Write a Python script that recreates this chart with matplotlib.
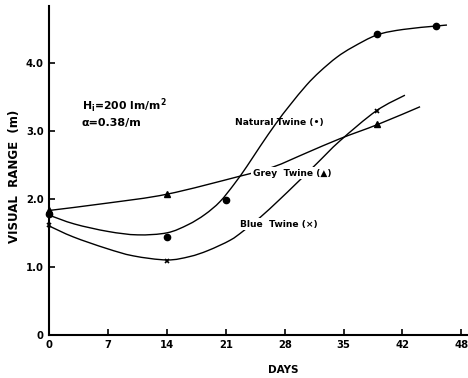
import numpy as np
import matplotlib
matplotlib.use("Agg")
import matplotlib.pyplot as plt
from matplotlib.path import Path
import matplotlib.patches as mpatches

# measured points (days, visual range in m)
nat_days = [0, 14, 21, 39, 46]
nat_vals = [1.78, 1.44, 1.99, 4.44, 4.55]
grey_days = [0, 14, 39]
grey_vals = [1.83, 2.08, 3.10]
blue_days = [0, 14, 39]
blue_vals = [1.61, 1.09, 3.30]

# hand drawn fitted curves
nat_curve_x = [0, 3, 7, 10.5, 14, 16.5, 18.5, 20.3, 22, 23.5, 25.1, 27.0,
               28.6, 30.6, 32.2, 34.2, 36.1, 39.0, 42.1, 46.0, 47.3]
nat_curve_y = [1.76, 1.63, 1.52, 1.47, 1.50, 1.62, 1.77, 1.96, 2.22, 2.48, 2.78, 3.12,
               3.38, 3.68, 3.88, 4.09, 4.24, 4.42, 4.50, 4.55, 4.565]
grey_curve_x = [0, 7, 14, 22.5, 26.6, 30.6, 34.6, 39.1, 44.1]
grey_curve_y = [1.83, 1.94, 2.07, 2.33, 2.47, 2.68, 2.89, 3.10, 3.36]
blue_curve_x = [0, 2.85, 6.8, 10, 14, 16.7, 18.9, 21.5, 23, 25.1, 27.3, 29.4, 31.8,
                34.6, 38.9, 42.3]
blue_curve_y = [1.60, 1.44, 1.27, 1.16, 1.10, 1.15, 1.24, 1.39, 1.52, 1.73, 1.98, 2.23, 2.52,
                2.86, 3.30, 3.53]

xticks = [0, 7, 14, 21, 28, 35, 42, 49]
xticklabels = ["0", "7", "14", "21", "28", "35", "42", "48"]
yticks = [0, 1, 2, 3, 4]
yticklabels = ["0", "1.0", "2.0", "3.0", "4.0"]


def smoothPath(xs, ys):
    # catmull-rom through the traced points, drawn as cubic bezier segments
    p = np.column_stack([xs, ys]).astype(float)
    p = np.vstack([p[0], p, p[-1]])
    verts = [p[1]]
    codes = [Path.MOVETO]
    for i in range(1, len(p) - 2):
        c1 = p[i] + (p[i + 1] - p[i - 1]) / 6.0
        c2 = p[i + 1] - (p[i + 2] - p[i]) / 6.0
        verts += [c1, c2, p[i + 1]]
        codes += [Path.CURVE4] * 3
    return Path(verts, codes)


plt.rcParams['font.family'] = ['DejaVu Sans']
plt.rcParams['font.weight'] = 'bold'
plt.rcParams['mathtext.fontset'] = 'dejavusans'

fig = plt.figure(figsize=(4.68, 3.78), dpi=100)
ax = fig.add_axes([0.1053, 0.115, 0.8947, 0.869])

for cx, cy in [(nat_curve_x, nat_curve_y), (grey_curve_x, grey_curve_y),
               (blue_curve_x, blue_curve_y)]:
    ax.add_patch(mpatches.PathPatch(smoothPath(cx, cy), fill=False, ec='k', lw=1.0, zorder=2))

ax.plot(nat_days, nat_vals, 'ko', ms=4.5, zorder=3, clip_on=False)
ax.plot(grey_days, grey_vals, 'k^', ms=4, zorder=3, clip_on=False)
ax.plot(blue_days, blue_vals, 'kx', ms=3.5, mew=1.2, zorder=3, clip_on=False)

box = dict(boxstyle='square,pad=0.15', fc='white', ec='none')
ax.text(22.1, 3.13, "Natural Twine (\u2022)", fontsize=6.6, ha='left', va='center', zorder=5)
ax.text(24.2, 2.38, "Grey  Twine (\u25b2)", fontsize=6.6, ha='left', va='center',
        zorder=5, bbox=box)
ax.text(22.7, 1.63, "Blue  Twine (\u00d7)", fontsize=6.6, ha='left', va='center',
        zorder=5, bbox=box)

ax.text(3.85, 3.37, r"H$_\mathbf{i}$=200 lm/m$^\mathbf{2}$", fontsize=7.8, ha='left', va='center')
ax.text(3.85, 3.12, "\u03b1=0.38/m", fontsize=8, ha='left', va='center')

ax.set_xlim(0, 49.8)
ax.set_ylim(0, 4.845)
ax.set_xticks(xticks)
ax.set_xticklabels(xticklabels)
ax.set_yticks(yticks)
ax.set_yticklabels(yticklabels)
ax.tick_params(direction='in', length=4, width=1.2, labelsize=7.2, pad=4)

for s in ['top', 'right']:
    ax.spines[s].set_visible(False)
for s in ['left', 'bottom']:
    ax.spines[s].set_linewidth(1.5)

fig.text(0.03, 0.534, "VISUAL  RANGE  (m)", rotation=90, ha='center', va='center', fontsize=8.5)
fig.text(0.605, 0.021, "DAYS", ha='center', va='center', fontsize=7.5)

fig.savefig("out.png", dpi=100)
